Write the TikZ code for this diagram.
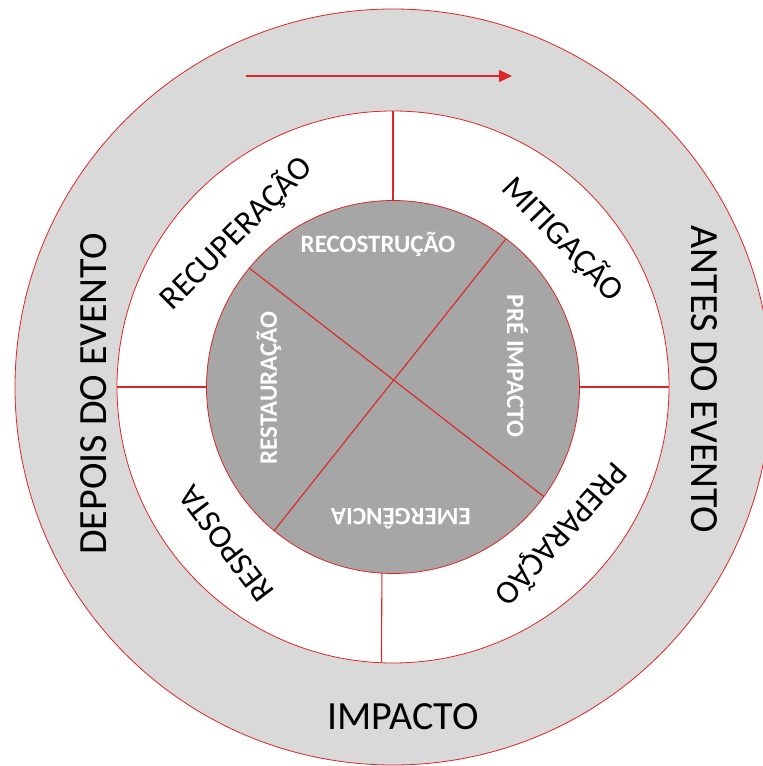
\documentclass[tikz,border=0pt]{standalone}
\usepackage{fontspec}
\setmainfont{Carlito}
\usetikzlibrary{arrows.meta}

\definecolor{MYred}{RGB}{222,36,36}
\definecolor{MYlight}{RGB}{217,217,217}
\definecolor{MYdark}{RGB}{166,166,166}

\newcommand\MYouter{378}
\newcommand\MYmiddle{276}
\newcommand\MYinner{186.5}

\begin{document}
\begin{tikzpicture}[x=1pt,y=1pt,
  ring/.style={draw=MYred,line width=0.8pt},
  spoke/.style={draw=MYred,line width=1.1pt},
  outertext/.style={font=\fontsize{40}{40}\selectfont,inner sep=0pt,text height=25.3pt,text depth=0pt},
  ringtext/.style={font=\fontsize{33}{33}\selectfont,inner sep=0pt,text height=20.9pt,text depth=0pt},
  innertext/.style={font=\bfseries\fontsize{25}{25}\selectfont,text=white,inner sep=0pt,text height=15.8pt,text depth=0pt}]

\useasboundingbox (-393,-379) rectangle (370,387);

\coordinate (C) at (0,0);
\coordinate (AS) at (-147,311);
\coordinate (AE) at (119,311);

% rings
 \draw[ring,fill=MYlight] (C) circle (\MYouter);
 \draw[ring,fill=white] (C) circle (\MYmiddle);

% spokes of the white ring
\coordinate (IT) at (90:\MYinner);
\coordinate (MT) at (90:\MYmiddle);
\coordinate (IL) at (180:\MYinner);
\coordinate (ML) at (180:\MYmiddle);
\coordinate (IR) at (0:\MYinner);
\coordinate (MR) at (0:\MYmiddle);
\coordinate (IB) at (266.6:\MYinner);
\coordinate (MB) at (267.6:\MYmiddle);

 \draw[spoke] (IT) -- (MT);
 \draw[spoke] (IL) -- (ML);
 \draw[spoke] (IR) -- (MR);
 \draw[spoke] (IB) -- (MB);

% inner disc and its cross
 \draw[ring,fill=MYdark] (C) circle (\MYinner);

\coordinate (XA) at (140.4:\MYinner);
\coordinate (XB) at (-36:\MYinner);
\coordinate (XC) at (52.7:\MYinner);
\coordinate (XD) at (230.4:\MYinner);

 \draw[spoke] (XA) -- (XB);
 \draw[spoke] (XC) -- (XD);

% arrow
 \draw[MYred,line width=1.4pt,-{Triangle[length=13pt,width=12pt]}] (AS) -- (AE);

% outer texts
\node[outertext,rotate=90] (DE) at (-299.5,-7) {DEPOIS DO EVENTO};
\node[outertext,rotate=-90] (AN) at (311,7.5) {ANTES DO EVENTO};
\node[outertext] (IM) at (10,-330) {IMPACTO};

% ring texts
\node[ringtext,rotate=45] (RC) at (-157,154) {RECUPERAÇÃO};
\node[ringtext,rotate=-46] (MI) at (170,148) {MITIGAÇÃO};
\node[ringtext,rotate=-132] (PR) at (168,-147) {PREPARAÇÃO};
\node[ringtext,rotate=127] (RS) at (-167,-157) {RESPOSTA};

% inner texts
\node[innertext] (RO) at (-15,142) {RECOSTRUÇÃO};
\node[innertext,rotate=-90] (PI) at (122,21) {PRÉ IMPACTO};
\node[innertext,rotate=180] (EM) at (8,-129) {EMERGÊNCIA};
\node[innertext,rotate=90] (RT) at (-124,-1) {RESTAURAÇÃO};

\end{tikzpicture}
\end{document}
